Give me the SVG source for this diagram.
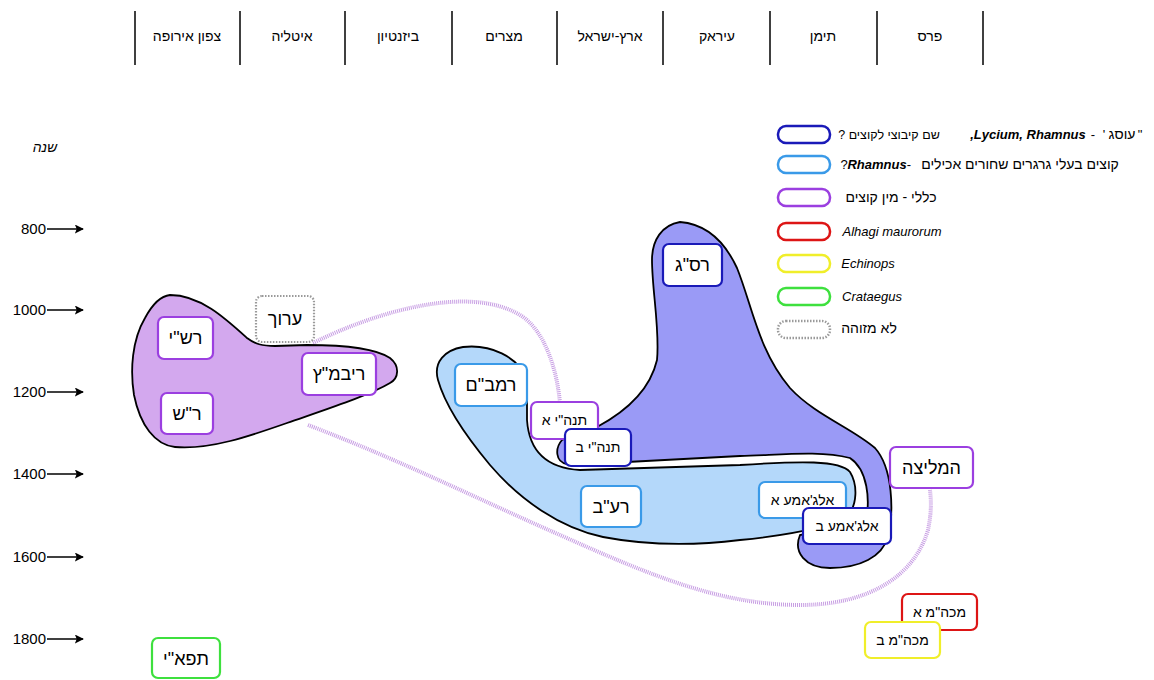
<svg xmlns="http://www.w3.org/2000/svg" width="1154" height="680" viewBox="0 0 1154 680">
<style>
text{font-family:"Liberation Sans","DejaVu Sans",sans-serif;fill:#000}
.hd{font-size:14px;text-anchor:middle}
.yr{font-size:15px;text-anchor:end}
.lg{font-size:13px;text-anchor:middle}
.lgh{font-size:14px;text-anchor:middle}
.lat{font-style:italic}
.sep{stroke:#000;stroke-width:1.5}
.ax{stroke:#000;stroke-width:1.5;marker-end:url(#ah)}
.box{fill:#fff;stroke-width:2.2}
.lbox{fill:#fff;stroke-width:2.5}
.pu{stroke:#9b3fe0}
.db{stroke:#1a1ab8}
.lb{stroke:#3a9ae8}
.rd{stroke:#dd1515}
.ye{stroke:#f0ee2a}
.gr{stroke:#3ee03e}
.gy{stroke:#9a9a9a;stroke-dasharray:1.5 1.5}
.bl{font-size:18px;text-anchor:middle}
.bs{font-size:14px;text-anchor:middle}
.conn{fill:none;stroke:#c79de3;stroke-width:4;stroke-dasharray:1 1}
.shape{stroke:#000;stroke-width:1.8}
</style>
<defs>
<marker id="ah" viewBox="0 0 10 10" refX="9" refY="5" markerWidth="6" markerHeight="6" orient="auto" markerUnits="strokeWidth">
<path d="M0,0 L10,5 L0,10 L2,5 Z" fill="#000"/>
</marker>
</defs>
<rect width="1154" height="680" fill="#fff"/>

<g id="header">
<line class="sep" x1="135" y1="11" x2="135" y2="65"/>
<line class="sep" x1="240" y1="11" x2="240" y2="65"/>
<line class="sep" x1="345" y1="11" x2="345" y2="65"/>
<line class="sep" x1="452" y1="11" x2="452" y2="65"/>
<line class="sep" x1="557" y1="11" x2="557" y2="65"/>
<line class="sep" x1="663" y1="11" x2="663" y2="65"/>
<line class="sep" x1="770" y1="11" x2="770" y2="65"/>
<line class="sep" x1="877" y1="11" x2="877" y2="65"/>
<line class="sep" x1="983" y1="11" x2="983" y2="65"/>
<text class="hd" direction="rtl" x="187" y="41">צפון אירופה</text>
<text class="hd" direction="rtl" x="292" y="41">איטליה</text>
<text class="hd" direction="rtl" x="398" y="41">ביזנטיון</text>
<text class="hd" direction="rtl" x="504" y="41">מצרים</text>
<text class="hd" direction="rtl" x="610" y="41">ארץ-ישראל</text>
<text class="hd" direction="rtl" x="717" y="41">עיראק</text>
<text class="hd" direction="rtl" x="823" y="41">תימן</text>
<text class="hd" direction="rtl" x="930" y="41">פרס</text>
</g>

<g id="axis">
<text x="45" y="152" style="font-size:14px;font-style:italic;text-anchor:middle" direction="rtl">שנה</text>
<text class="yr" x="46" y="234">800</text><line class="ax" x1="47" y1="229" x2="83" y2="229"/>
<text class="yr" x="46" y="315">1000</text><line class="ax" x1="47" y1="310" x2="83" y2="310"/>
<text class="yr" x="46" y="397">1200</text><line class="ax" x1="47" y1="392" x2="83" y2="392"/>
<text class="yr" x="46" y="479">1400</text><line class="ax" x1="47" y1="474" x2="83" y2="474"/>
<text class="yr" x="46" y="562">1600</text><line class="ax" x1="47" y1="557" x2="83" y2="557"/>
<text class="yr" x="46" y="644">1800</text><line class="ax" x1="47" y1="639" x2="83" y2="639"/>
</g>

<g id="legend">
<rect class="lbox db" x="778" y="126" width="52" height="17" rx="8"/>
<text class="lgh" direction="rtl" x="889" y="139" style="font-size:12.5px">שם קיבוצי לקוצים ?</text>
<text class="lg lat" direction="ltr" x="1028" y="139" font-weight="bold">,Lycium, Rhamnus</text>
<text class="lg" direction="ltr" x="1093" y="139">-</text>
<text class="lg" x="1104" y="139">'</text>
<text class="lgh" direction="rtl" x="1122" y="139">עוסג</text>
<text class="lg" x="1140" y="139">"</text>
<rect class="lbox lb" x="778" y="156" width="52" height="17" rx="8"/>
<text class="lg" direction="ltr" x="844" y="169">?</text>
<text class="lg lat" direction="ltr" x="877" y="169" font-weight="bold">Rhamnus</text>
<text class="lg" direction="ltr" x="909" y="169">-</text>
<text class="lgh" direction="rtl" x="1020" y="169">קוצים בעלי גרגרים שחורים אכילים</text>
<rect class="lbox pu" x="778" y="189" width="52" height="17" rx="8"/>
<text class="lgh" direction="rtl" x="891" y="202">כללי - מין קוצים</text>
<rect class="lbox rd" x="778" y="223" width="52" height="17" rx="8"/>
<text class="lg lat" x="892" y="236">Alhagi maurorum</text>
<rect class="lbox ye" x="778" y="255" width="52" height="17" rx="8"/>
<text class="lg lat" x="868" y="268">Echinops</text>
<rect class="lbox gr" x="778" y="288" width="52" height="17" rx="8"/>
<text class="lg lat" x="872" y="301">Crataegus</text>
<rect class="lbox gy" x="778" y="321" width="52" height="17" rx="8"/>
<text class="lgh" direction="rtl" x="869" y="333">לא מזוהה</text>
</g>

<g id="connectors">
<path class="conn" d="M313,343 C380,310 470,285 520,315 C545,330 557,370 560,403"/>
<path class="conn" d="M308,425 C400,460 480,500 560,535 C650,575 720,605 800,605 C870,605 915,575 928,530 C932,510 931,500 930,490"/>
</g>

<g id="group-purple">
<path class="shape" fill="#d3a8ee" d="M170,295 C200,295 225,318 247,338 C255,344 262,346 275,346 L307,345 C340,345 375,348 390,358 C400,366 399,378 390,383 C370,395 330,408 287,423 C250,436 210,450 175,447 C155,445 140,425 134,395 C130,370 132,340 145,318 C152,305 160,296 170,295 Z"/>
</g>
<g id="group-lightblue">
<path class="shape" fill="#b4d8fa" d="M463,347 C490,344 518,356 527,380 L527,420 C529,450 545,468 580,470 L740,465 C800,461 840,460 850,472 C858,485 857,505 848,515 C830,528 790,535 740,540 C700,545 650,546 603,537 C560,528 520,500 490,465 C465,435 445,405 438,380 C433,362 445,350 463,347 Z"/>
</g>
<g id="group-darkblue">
<path class="shape" fill="#9a9af6" d="M680,222 C705,224 724,240 737,268 C752,305 758,350 790,388 C815,415 852,428 875,448 C893,468 894,512 888,537 C882,557 860,568 830,568 C805,568 793,552 800,535 L866,520 C870,500 868,470 850,458 C820,450 780,455 740,456 L627,462 L567,464 C555,462 555,448 562,440 L597,427 C625,412 650,390 657,360 C660,330 652,290 652,260 C652,240 662,225 680,222 Z"/>
</g>

<g id="n-rashi"><rect class="box pu" x="158" y="317" width="55" height="42" rx="6"/><text class="bl" direction="rtl" x="185.5" y="344">רש"י</text></g>
<g id="n-rash"><rect class="box pu" x="161" y="393" width="52" height="41" rx="6"/><text class="bl" direction="rtl" x="187" y="420">ר"ש</text></g>
<g id="n-aruch"><rect class="box gy" x="256" y="296" width="58" height="46" rx="6"/><text class="bl" direction="rtl" x="285" y="325">ערוך</text></g>
<g id="n-ribmatz"><rect class="box pu" x="302" y="353" width="74" height="42" rx="6"/><text class="bl" direction="rtl" x="339" y="380">ריבמ"ץ</text></g>
<g id="n-rambam"><rect class="box lb" x="455" y="364" width="72" height="42" rx="6"/><text class="bl" direction="rtl" x="491" y="391">רמב"ם</text></g>
<g id="n-tanhi-a"><rect class="box pu" x="531" y="402" width="67" height="37" rx="6"/><text class="bs" direction="rtl" x="564.5" y="425">תנה"י א</text></g>
<g id="n-tanhi-b"><rect class="box db" x="565" y="429" width="66" height="37" rx="6"/><text class="bs" direction="rtl" x="598" y="452">תנה"י ב</text></g>
<g id="n-rasag"><rect class="box db" x="663" y="244" width="59" height="42" rx="6"/><text class="bl" direction="rtl" x="692.5" y="271">רס"ג</text></g>
<g id="n-raav"><rect class="box lb" x="581" y="486" width="60" height="41" rx="6"/><text class="bl" direction="rtl" x="611" y="513">רע"ב</text></g>
<g id="n-aljama-a"><rect class="box lb" x="759" y="482" width="87" height="36" rx="6"/><text class="bs" direction="rtl" x="802.5" y="505">אלג'אמע א</text></g>
<g id="n-aljama-b"><rect class="box db" x="803" y="508" width="88" height="36" rx="6"/><text class="bs" direction="rtl" x="847" y="531">אלג'אמע ב</text></g>
<g id="n-hamelitza"><rect class="box pu" x="890" y="447" width="83" height="41" rx="6"/><text class="bl" direction="rtl" x="931.5" y="474">המליצה</text></g>
<g id="n-machm-a"><rect class="box rd" x="902" y="594" width="75" height="36" rx="6"/><text class="bs" direction="rtl" x="939.5" y="617">מכה"מ א</text></g>
<g id="n-machm-b"><rect class="box ye" x="865" y="622" width="75" height="36" rx="6"/><text class="bs" direction="rtl" x="902.5" y="645">מכה"מ ב</text></g>
<g id="n-tifi"><rect class="box gr" x="152" y="638" width="68" height="40" rx="6"/><text class="bl" direction="rtl" x="186" y="665">תפא"י</text></g>
</svg>
